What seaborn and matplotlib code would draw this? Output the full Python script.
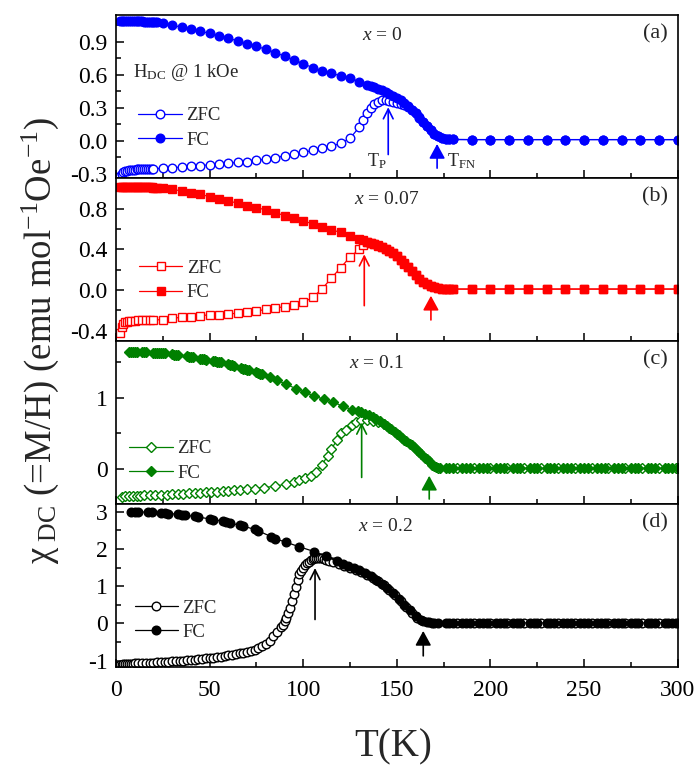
import matplotlib
matplotlib.use("Agg")
import matplotlib.pyplot as plt
import seaborn as sns
from matplotlib.ticker import MultipleLocator, FormatStrFormatter

# ---------------- data: DC susceptibility chi(T) at H = 1 kOe ----------------
# x = 0 (blue)
t_a_fc = [2, 3, 4, 5, 6, 7, 8, 9, 10, 11, 12, 13, 14, 15, 16, 17, 18, 19, 20, 21, 22,
          25, 30, 35, 40, 45, 50, 55, 60, 65, 70, 75, 80, 85, 90, 95, 100, 105, 110, 115, 120, 125, 130,
          134, 136, 138, 140, 142, 144, 146, 148, 150, 152, 154, 156, 158, 160, 162, 164, 166, 168,
          170, 172, 174, 176, 178, 180,
          190, 200, 210, 220, 230, 240, 250, 260, 270, 280, 290, 300]
chi_a_fc = [1.093, 1.092, 1.091, 1.091, 1.090, 1.090, 1.089, 1.089, 1.088, 1.088, 1.087, 1.087, 1.086,
            1.085, 1.085, 1.084, 1.083, 1.082, 1.081, 1.080, 1.078,
            1.069, 1.050, 1.036, 1.017, 0.998, 0.977, 0.954, 0.934, 0.909, 0.885, 0.860, 0.833, 0.803,
            0.770, 0.735, 0.702, 0.665, 0.637, 0.615, 0.590, 0.570, 0.538,
            0.508, 0.497, 0.485, 0.472, 0.458, 0.443, 0.428, 0.410, 0.390, 0.368, 0.343, 0.315, 0.284,
            0.250, 0.212, 0.172, 0.132, 0.095, 0.064, 0.040, 0.025, 0.017, 0.013, 0.011,
            0.010, 0.010, 0.010, 0.010, 0.010, 0.010, 0.010, 0.010, 0.010, 0.010, 0.010, 0.010]
t_a_zfc = [2, 3, 4, 5, 6, 7, 8, 9, 10, 11, 12, 13, 14, 15, 16, 17, 18, 19, 20,
           25, 30, 35, 40, 45, 50, 55, 60, 65, 70, 75, 80, 85, 90, 95, 100, 105, 110, 115, 120, 125, 130,
           132, 134, 136, 138, 140, 142, 144, 146, 148, 150, 152, 154, 156, 158, 160, 162, 164, 166,
           168, 170, 172, 174, 176, 178, 180,
           190, 200, 210, 220, 230, 240, 250, 260, 270, 280, 290, 300]
chi_a_zfc = [-0.318, -0.300, -0.288, -0.280, -0.275, -0.271, -0.268, -0.266, -0.264, -0.262, -0.261,
             -0.260, -0.259, -0.258, -0.257, -0.256, -0.256, -0.255, -0.255,
             -0.251, -0.246, -0.241, -0.234, -0.227, -0.220, -0.213, -0.205, -0.198, -0.190, -0.180,
             -0.168, -0.154, -0.139, -0.123, -0.106, -0.089, -0.070, -0.050, -0.025, 0.022, 0.125,
             0.185, 0.250, 0.300, 0.335, 0.355, 0.367, 0.370, 0.366, 0.357, 0.345, 0.334, 0.322, 0.307,
             0.282, 0.249, 0.211, 0.171, 0.131, 0.094, 0.063, 0.040, 0.025, 0.017, 0.013, 0.011,
             0.010, 0.010, 0.010, 0.010, 0.010, 0.010, 0.010, 0.010, 0.010, 0.010, 0.010, 0.010]

# x = 0.07 (red)
t_b_fc = [2, 3, 4, 5, 6, 7, 8, 9, 10, 11, 12, 13, 14, 15, 16, 17, 18, 19, 20, 21, 22,
          25, 30, 35, 40, 45, 50, 55, 60, 65, 70, 75, 80, 85, 90, 95, 100, 105, 110, 115, 120, 125, 130,
          132, 134, 136, 138, 140, 142, 144, 146, 148, 150, 152, 154, 156, 158, 160, 162, 164, 166,
          168, 170, 172, 174, 176, 178, 180,
          190, 200, 210, 220, 230, 240, 250, 260, 270, 280, 290, 300]
chi_b_fc = [1.015, 1.014, 1.014, 1.013, 1.013, 1.012, 1.012, 1.011, 1.011, 1.010, 1.010, 1.010, 1.009,
            1.009, 1.008, 1.008, 1.007, 1.007, 1.006, 1.006, 1.005,
            1.003, 0.989, 0.973, 0.956, 0.940, 0.917, 0.894, 0.875, 0.853, 0.828, 0.810, 0.787, 0.761,
            0.731, 0.706, 0.680, 0.650, 0.621, 0.592, 0.566, 0.532, 0.499,
            0.487, 0.475, 0.463, 0.451, 0.439, 0.425, 0.407, 0.387, 0.362, 0.332, 0.298, 0.262, 0.224,
            0.186, 0.148, 0.112, 0.082, 0.058, 0.040, 0.028, 0.020, 0.015, 0.012, 0.011, 0.010,
            0.010, 0.010, 0.010, 0.010, 0.010, 0.010, 0.010, 0.010, 0.010, 0.010, 0.010, 0.010]
t_b_zfc = [2, 3, 4, 5, 6, 7, 8, 10, 12, 14, 16, 18, 20,
           25, 30, 35, 40, 45, 50, 55, 60, 65, 70, 75, 80, 85, 90, 95, 100, 105, 110, 115, 120, 125, 130,
           132, 134, 136, 138, 140, 142, 144, 146, 148, 150, 152, 154, 156, 158, 160, 162, 164, 166,
           168, 170, 172, 174, 176, 178, 180,
           190, 200, 210, 220, 230, 240, 250, 260, 270, 280, 290, 300]
chi_b_zfc = [-0.420, -0.360, -0.330, -0.318, -0.310, -0.305, -0.302, -0.299, -0.297, -0.296, -0.295,
             -0.294, -0.293,
             -0.290, -0.277, -0.267, -0.260, -0.250, -0.244, -0.240, -0.234, -0.227, -0.218, -0.205,
             -0.190, -0.177, -0.162, -0.146, -0.121, -0.072, 0.010, 0.117, 0.220, 0.325, 0.400,
             0.440, 0.468, 0.460, 0.449, 0.437, 0.423, 0.405, 0.385, 0.360, 0.330, 0.296, 0.260, 0.222,
             0.184, 0.146, 0.110, 0.080, 0.057, 0.039, 0.027, 0.019, 0.014, 0.012, 0.011, 0.010,
             0.010, 0.010, 0.010, 0.010, 0.010, 0.010, 0.010, 0.010, 0.010, 0.010, 0.010, 0.010]

# x = 0.1 (green)
t_c_fc = [7, 8, 9, 10, 11, 14, 15, 16, 20, 21, 22, 23, 24, 25, 26, 30, 31, 32, 33, 38, 39, 40, 41,
          45, 46, 47, 48, 52, 53, 54, 55, 56, 60, 61, 62, 63, 67, 68, 69, 70, 71, 75, 76, 77, 78,
          82, 86, 91, 96, 101, 106, 111, 116, 121, 126,
          129, 131, 133, 135, 137, 139, 141, 143, 145, 147, 149, 151, 153, 155, 157, 159, 161, 163,
          165, 167, 169, 171, 173,
          176, 178, 180, 185, 187, 189, 194, 196, 198, 203, 205, 207, 212, 214, 216, 221, 223, 225,
          230, 232, 234, 239, 241, 243, 248, 250, 252, 257, 259, 261, 266, 268, 270, 275, 277, 279,
          284, 286, 288, 293, 295, 297, 300]
chi_c_fc = [1.640, 1.640, 1.637, 1.636, 1.635, 1.632, 1.631, 1.630,
            1.626, 1.625, 1.623, 1.622, 1.620, 1.618, 1.616, 1.602, 1.599, 1.595, 1.590,
            1.575, 1.570, 1.566, 1.561, 1.545, 1.540, 1.535, 1.530,
            1.515, 1.510, 1.503, 1.497, 1.490, 1.465, 1.458, 1.450, 1.442,
            1.412, 1.404, 1.396, 1.387, 1.378, 1.350, 1.341, 1.332, 1.322,
            1.285, 1.240, 1.185, 1.125, 1.070, 1.020, 0.975, 0.935, 0.880, 0.830,
            0.810, 0.795, 0.775, 0.755, 0.730, 0.700, 0.665, 0.630, 0.595, 0.555, 0.515, 0.470,
            0.430, 0.390, 0.350, 0.310, 0.260, 0.210, 0.160, 0.110, 0.060, 0.025, 0.012,
            0.010, 0.010, 0.010, 0.010, 0.010, 0.010, 0.010, 0.010, 0.010, 0.010, 0.010, 0.010,
            0.010, 0.010, 0.010, 0.010, 0.010, 0.010, 0.010, 0.010, 0.010, 0.010, 0.010, 0.010,
            0.010, 0.010, 0.010, 0.010, 0.010, 0.010, 0.010, 0.010, 0.010, 0.010, 0.010, 0.010,
            0.010, 0.010, 0.010, 0.010, 0.010, 0.010, 0.010]
t_c_zfc = [3, 5, 7, 9, 11, 13, 15, 18, 21, 24, 27, 30, 33, 36, 39, 42, 45, 48, 51, 54, 57, 60, 63, 66,
           70, 74, 79, 85, 91, 95, 98, 101, 104, 107, 110, 113, 115, 118, 120, 123, 126, 128, 131,
           134, 137, 140, 143, 146, 150, 154, 158, 162, 166, 170, 172,
           182, 191, 200, 209, 218, 227, 236, 245, 254, 263, 272, 281, 290, 299]
chi_c_zfc = [-0.386, -0.383, -0.380, -0.378, -0.375, -0.372, -0.370,
             -0.367, -0.364, -0.360, -0.357, -0.352, -0.348, -0.343, -0.339, -0.335, -0.330, -0.326,
             -0.322, -0.318, -0.313, -0.305, -0.300, -0.290,
             -0.283, -0.275, -0.260, -0.240, -0.210, -0.185, -0.155, -0.130, -0.095, -0.040, 0.060,
             0.180, 0.280, 0.400, 0.500, 0.550, 0.610, 0.660, 0.680, 0.685, 0.675, 0.660, 0.625,
             0.570, 0.490, 0.410, 0.330, 0.235, 0.135, 0.040, 0.015,
             0.010, 0.010, 0.010, 0.010, 0.010, 0.010, 0.010, 0.010, 0.010, 0.010, 0.010, 0.010,
             0.010, 0.010]

# x = 0.2 (black)
t_d_fc = [8, 10, 12, 17, 19, 24, 26, 28, 33, 35, 37, 42, 44, 50, 52, 57, 59, 61, 66, 68, 74, 76, 83, 85,
          91, 98, 106, 112, 118,
          121, 124, 127, 130, 133, 136, 139, 142, 145, 148, 151, 154, 157, 160, 163, 166, 169, 172,
          176, 178, 180, 185, 187, 189, 194, 196, 198, 203, 205, 207, 212, 214, 216, 221, 223, 225,
          230, 232, 234, 239, 241, 243, 248, 250, 252, 257, 259, 261, 266, 268, 270, 275, 277, 279,
          284, 286, 288, 293, 295, 297, 300]
chi_d_fc = [3.000, 3.000, 2.998, 2.990, 2.983, 2.970, 2.962, 2.955, 2.935, 2.922, 2.910, 2.875, 2.860,
            2.810, 2.790, 2.750, 2.730, 2.700, 2.640, 2.615, 2.530, 2.490, 2.330, 2.280,
            2.180, 2.060, 1.930, 1.810, 1.670,
            1.600, 1.540, 1.480, 1.430, 1.350, 1.270, 1.180, 1.070, 0.960, 0.830, 0.670, 0.500, 0.350,
            0.210, 0.100, 0.045, 0.025, 0.016,
            0.015, 0.015, 0.015, 0.015, 0.015, 0.015, 0.015, 0.015, 0.015, 0.015, 0.015, 0.015,
            0.015, 0.015, 0.015, 0.015, 0.015, 0.015, 0.015, 0.015, 0.015, 0.015, 0.015, 0.015,
            0.015, 0.015, 0.015, 0.015, 0.015, 0.015, 0.015, 0.015, 0.015, 0.015, 0.015, 0.015,
            0.015, 0.015, 0.015, 0.015, 0.015, 0.015, 0.015]
t_d_zfc = [1, 2, 3, 4, 5, 6, 7, 8, 9, 10, 12, 14, 16, 18, 20, 22, 24, 26, 28, 30, 32, 34, 36, 38, 40,
           42, 44, 46, 48, 50, 52, 54, 56, 58, 60, 62, 64, 66, 68, 70, 72, 74, 76, 78, 80, 82, 84, 86,
           88, 89, 90, 91, 92, 93, 94, 95, 96, 97, 98, 99, 100, 101, 102, 103, 104, 105, 106, 107, 108,
           109, 110, 111, 112, 114, 116, 119, 122, 125, 128, 131, 134, 137, 140, 143, 146, 149, 152,
           155, 158, 161, 164, 167, 170,
           182, 191, 200, 209, 218, 227, 236, 245, 254, 263, 272, 281, 290, 299]
chi_d_zfc = [-1.140, -1.120, -1.110, -1.100, -1.095, -1.090, -1.085, -1.080, -1.078, -1.075, -1.070,
             -1.065, -1.060, -1.055, -1.050, -1.045, -1.040, -1.035, -1.030, -1.020, -1.015, -1.005,
             -1.000, -0.990, -0.980, -0.970, -0.960, -0.950, -0.940, -0.930, -0.915, -0.900, -0.890,
             -0.875, -0.860, -0.845, -0.825, -0.805, -0.785, -0.760, -0.730, -0.700, -0.660, -0.610,
             -0.560, -0.470, -0.340, -0.220,
             -0.090, -0.030, 0.060, 0.160, 0.280, 0.420, 0.600, 0.780, 0.980, 1.180, 1.330, 1.420,
             1.500, 1.570, 1.620, 1.660, 1.700, 1.730, 1.750, 1.760, 1.765,
             1.760, 1.750, 1.730, 1.710, 1.680, 1.650, 1.610, 1.550, 1.490, 1.450, 1.390, 1.310,
             1.230, 1.130, 1.030, 0.900, 0.760, 0.610,
             0.430, 0.280, 0.150, 0.065, 0.030, 0.020,
             0.015, 0.015, 0.015, 0.015, 0.015, 0.015, 0.015, 0.015, 0.015, 0.015, 0.015, 0.015,
             0.015, 0.015]

compositions = ["0", "0.07", "0.1", "0.2"]
panel_tags = ["(a)", "(b)", "(c)", "(d)"]
t_peak = [145.4, 132.6, 131.2, 106.3]      # T_P
t_neel = [171.5, 168.2, 167.3, 164.1]      # T_FN

# ---------------- style ----------------
sns.set_style("ticks")
plt.rcParams.update({
    "font.family": ["Liberation Serif", "DejaVu Serif"],
    "mathtext.fontset": "custom",
    "mathtext.rm": "Liberation Serif",
    "mathtext.it": "Liberation Serif:italic",
    "mathtext.bf": "Liberation Serif:bold",
    "axes.unicode_minus": False,
    "axes.linewidth": 1.2,
    "axes.edgecolor": "black",
    "xtick.color": "black",
    "ytick.color": "black",
})

fig, axes = plt.subplots(4, 1, sharex=True, figsize=(6.98, 7.66), dpi=100)
fig.subplots_adjust(left=0.1662, right=0.9709, top=0.9804, bottom=0.1292, hspace=0)

series = [
    (t_a_zfc, chi_a_zfc, t_a_fc, chi_a_fc, "#0000FF", "o", 6.2),
    (t_b_zfc, chi_b_zfc, t_b_fc, chi_b_fc, "#FF0000", "s", 5.5),
    (t_c_zfc, chi_c_zfc, t_c_fc, chi_c_fc, "#008000", "D", 5.2),
    (t_d_zfc, chi_d_zfc, t_d_fc, chi_d_fc, "#000000", "o", 6.2),
]
ylims = [(-0.34, 1.145), (-0.50, 1.10), (-0.49, 1.79), (-1.17, 3.21)]
ymajor = [0.3, 0.4, 1.0, 1.0]
yminor = [0.15, 0.2, 0.5, 0.5]
yfmt = ["%.1f", "%.1f", "%d", "%d"]
legend_pos = [(0.040, 0.307), (0.041, 0.372), (0.024, 0.265), (0.033, 0.287)]
comp_pos = [(0.475, 0.877), (0.482, 0.870), (0.463, 0.865), (0.479, 0.860)]
# arrow extents (tail, tip) in data units
tp_span = [(-0.126, 0.305), (-0.153, 0.351), (-0.118, 0.650), (0.107, 1.490)]
tn_span = [(-0.250, -0.030), (-0.293, -0.056), (-0.420, -0.095), (-0.870, -0.200)]

for i, ax in enumerate(axes):
    tz, cz, tf, cf, col, mk, ms = series[i]
    sns.lineplot(x=tz, y=cz, ax=ax, color=col, marker=mk, markersize=ms,
                 markerfacecolor="white", markeredgecolor=col, markeredgewidth=1.0,
                 linewidth=0.9, estimator=None, sort=False, label="ZFC")
    sns.lineplot(x=tf, y=cf, ax=ax, color=col, marker=mk, markersize=ms,
                 markerfacecolor=col, markeredgecolor=col, markeredgewidth=1.0,
                 linewidth=0.9, estimator=None, sort=False, label="FC")

    ax.set_xlim(0, 300)
    ax.set_ylim(*ylims[i])
    ax.xaxis.set_major_locator(MultipleLocator(50))
    ax.xaxis.set_minor_locator(MultipleLocator(25))
    ax.yaxis.set_major_locator(MultipleLocator(ymajor[i]))
    ax.yaxis.set_minor_locator(MultipleLocator(yminor[i]))
    ax.yaxis.set_major_formatter(FormatStrFormatter(yfmt[i]))
    ax.tick_params(which="both", direction="in", top=False, right=False, width=1.1,
                   labelsize=17, pad=6)
    ax.tick_params(which="major", length=6)
    ax.tick_params(which="minor", length=3.5)
    ax.tick_params(axis="x", pad=9)
    for s in ax.spines.values():
        s.set_visible(True)
        s.set_linewidth(1.2)
    ax.set_xlabel("")
    ax.set_ylabel("")

    ax.legend(loc="center left", bbox_to_anchor=legend_pos[i], frameon=False,
              fontsize=13.5, handlelength=2.3, handletextpad=0.25, labelspacing=0.38,
              borderpad=0, borderaxespad=0)

    ax.text(comp_pos[i][0], comp_pos[i][1], "$x$ = " + compositions[i], transform=ax.transAxes,
            ha="center", va="center", fontsize=14)
    ax.text(0.983, 0.885, panel_tags[i], transform=ax.transAxes, ha="right", va="center",
            fontsize=16)

    ax.annotate("", xy=(t_peak[i], tp_span[i][1]), xytext=(t_peak[i], tp_span[i][0]),
                arrowprops=dict(arrowstyle="->,head_length=0.5,head_width=0.25", color=col,
                                lw=1.2, shrinkA=0, shrinkB=0, mutation_scale=14))
    ax.annotate("", xy=(t_neel[i], tn_span[i][1]), xytext=(t_neel[i], tn_span[i][0]),
                arrowprops=dict(arrowstyle="-|>,head_length=0.55,head_width=0.3", color=col,
                                lw=1.2, shrinkA=0, shrinkB=0, mutation_scale=16))

ax_a = axes[0]
ax_a.text(9.1, 0.622, r"H$_{\rm DC}$ @ 1 kOe", fontsize=13.5, ha="left", va="center")
ax_a.text(133.9, -0.236, r"T$_{\rm P}$", fontsize=13, ha="left", va="baseline")
ax_a.text(176.6, -0.236, r"T$_{\rm FN}$", fontsize=13, ha="left", va="baseline")

fig.text(0.058, 0.556, "χ$_{\\ \\rm DC}$ (=M/H) (emu mol$^{-1}$Oe$^{-1}$)", rotation=90,
         ha="center", va="center", fontsize=26.5)
fig.text(0.563, 0.025, "T(K)", ha="center", va="center", fontsize=28)

fig.savefig("out.png", dpi=100)
